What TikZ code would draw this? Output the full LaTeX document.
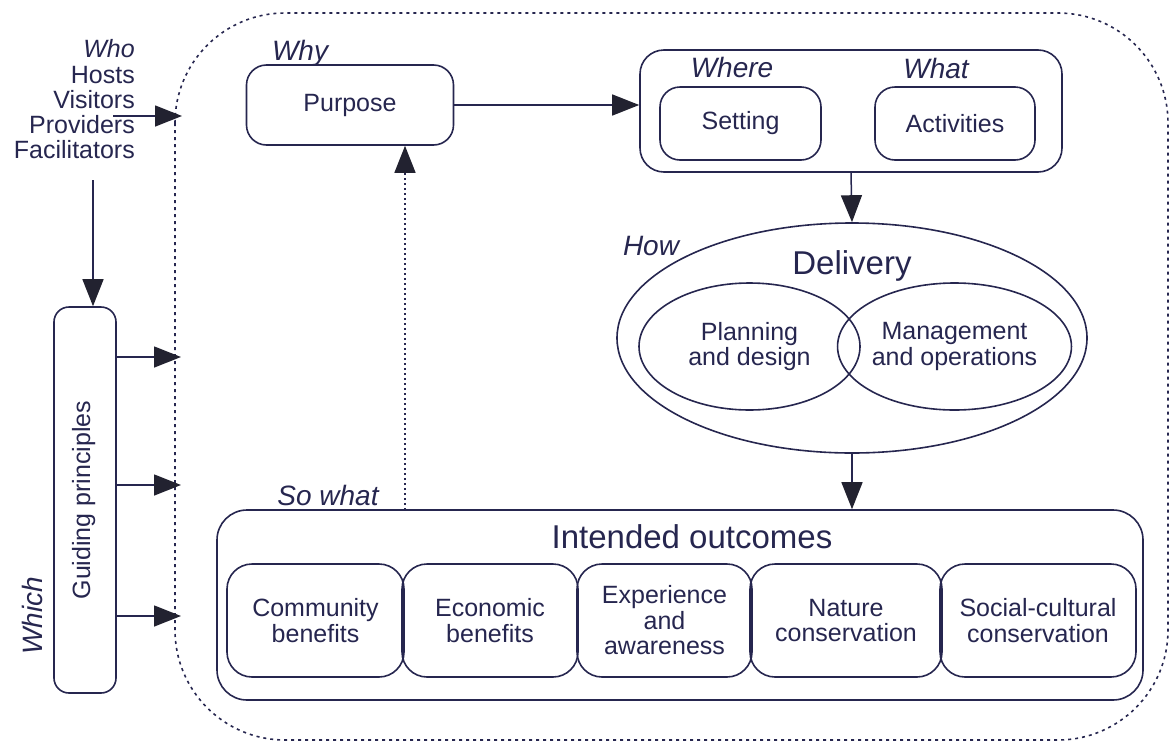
\documentclass[tikz,border=0pt]{standalone}
\usepackage{fontspec}
\setmainfont{Liberation Sans}
\usetikzlibrary{arrows.meta,shapes.geometric}
\definecolor{ink}{HTML}{26264F}
\definecolor{tipcol}{HTML}{222230}
\tikzset{
  txt/.style={text=ink, font=\fontsize{25}{25.5}\selectfont, inner sep=0pt, align=center},
  ask/.style={text=ink, font=\fontsize{28}{28}\selectfont\itshape, inner sep=0pt},
  big/.style={text=ink, font=\fontsize{33}{33}\selectfont, inner sep=0pt},
  box/.style={txt, draw=ink, line width=1.6pt, rounded corners=20pt},
  oval/.style={txt, draw=ink, line width=1.6pt, ellipse},
  flow/.style={draw=ink, line width=1.5pt, -{Triangle[length=27pt,width=21pt,color=tipcol]}},
  frame/.style={draw=ink, line width=1.6pt, dash pattern=on 3pt off 4pt, rounded corners=110pt},
}
\begin{document}
\begin{tikzpicture}[x=1pt,y=-1pt]
\useasboundingbox (0,0) rectangle (1170,742);

% dotted frame
\draw[frame] (175,13) rectangle (1168,740);

% who
\node[ask, font=\fontsize{25}{25}\selectfont\itshape, anchor=base east] (who) at (135,57) {Who};
\node[txt, anchor=base east] (hosts) at (135,83) {Hosts};
\node[txt, anchor=base east] (visitors) at (135,108) {Visitors};
\node[txt, anchor=base east] (providers) at (135,133) {Providers};
\node[txt, anchor=base east] (facilitators) at (135,158) {Facilitators};

% which
\node[box, rounded corners=15pt, minimum width=62, minimum height=386] (guide) at (85,500) {};
\node[txt, rotate=90, anchor=base] (guidetext) at (90,500) {Guiding principles};
\node[ask, rotate=90, anchor=base] (which) at (42,616) {Which};

% why
\node[ask, anchor=base] (why) at (300,60) {Why};
\node[box, minimum width=207, minimum height=80] (purpose) at (350,105) {Purpose};

% where / what
\node[box, rounded corners=24pt, minimum width=422, minimum height=122] (place) at (851,111) {};
\node[ask, anchor=base] (where) at (732,77) {Where};
\node[ask, anchor=base] (what) at (936,78) {What};
\node[box, minimum width=161, minimum height=73] (setting) at (740.5,123.5) {Setting};
\node[box, minimum width=160, minimum height=73] (activities) at (955,123.5) {Activities};

% how
\node[oval, minimum width=470, minimum height=230] (delivery) at (852,338) {};
\node[ask, anchor=base] (how) at (651,255) {How};
\node[big, anchor=base] (deliverytext) at (852,274) {Delivery};
\node[oval, minimum width=221, minimum height=127] (planning) at (749.5,346.5) {Planning\\and design};
\node[oval, minimum width=221, minimum height=127] (management) at (954.5,346.5) {Management\\and operations};

% so what
\node[box, rounded corners=30pt, minimum width=926, minimum height=190] (outcomes) at (680,605) {};
\node[ask, anchor=base] (sowhat) at (328,505) {So what};
\node[big, anchor=base] (outcomestext) at (692,548) {Intended outcomes};
\node[box, rounded corners=25pt, minimum width=177, minimum height=113] (community) at (315.5,620.5) {Community\\benefits};
\node[box, rounded corners=25pt, minimum width=176, minimum height=113] (economic) at (490,620.5) {Economic\\benefits};
\node[box, rounded corners=25pt, minimum width=175, minimum height=113] (experience) at (664.5,620.5) {Experience\\and\\awareness};
\node[box, rounded corners=25pt, minimum width=192, minimum height=113] (nature) at (846,620.5) {Nature\\conservation};
\node[box, rounded corners=25pt, minimum width=196, minimum height=113] (social) at (1038,620.5) {Social-cultural\\conservation};

% connectors
\coordinate (whostart) at (113,116);
\coordinate (whoin) at (182,116);
\coordinate (whodown) at (93,180);
\coordinate (in1) at (181,357);
\coordinate (in2) at (181,485);
\coordinate (in3) at (181,616);
\coordinate (feedback) at (405,510);

\draw[flow] (whostart) -- (whoin);
\draw[flow] (whodown) -- (whodown |- guide.north);
\draw[flow] (guide.east |- in1) -- (in1);
\draw[flow] (guide.east |- in2) -- (in2);
\draw[flow] (guide.east |- in3) -- (in3);
\draw[flow] (purpose.east) -- (purpose.east -| place.west);
\draw[flow] (place.south) -- (delivery.north);
\draw[flow] (delivery.south) -- (delivery.south |- outcomes.north);
\draw[flow, dash pattern=on 2pt off 3pt] (feedback) -- (feedback |- purpose.south);

\end{tikzpicture}
\end{document}
